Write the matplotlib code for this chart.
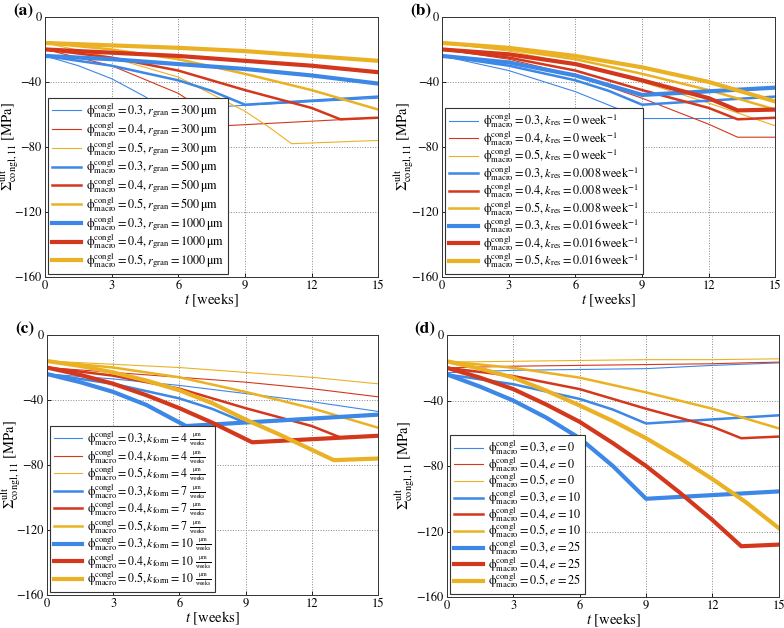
import matplotlib
matplotlib.use('Agg')
import matplotlib.pyplot as plt

plt.rcParams['font.family'] = ['STIXGeneral', 'DejaVu Serif']
plt.rcParams['mathtext.fontset'] = 'stix'

BLUE = '#3d87e6'
RED = '#d4381c'
YEL = '#ebb124'

# (a) granule radius
a_t = [[0, 1.5, 3, 4.5, 5.4, 15],
       [0, 3, 6, 7, 8, 15],
       [0, 3, 6, 9, 10, 11.1, 15],
       [0, 3, 6, 7.5, 9, 15],
       [0, 3, 6, 9, 12, 13.3, 15],
       [0, 3, 6, 9, 12, 15],
       [0, 3, 6, 9, 12, 15],
       [0, 3, 6, 9, 12, 15],
       [0, 3, 6, 9, 12, 15]]
a_y = [[-24, -30, -38, -49, -57, -50],
       [-20, -30, -47, -56, -67, -62],
       [-16, -25, -37, -58, -67, -78, -76],
       [-24, -30, -39, -45.5, -54, -49],
       [-20, -25, -33, -45, -56, -63, -62],
       [-16, -20, -26, -35, -45, -57],
       [-24, -26, -29, -32, -36, -41],
       [-20, -22, -24, -27, -30, -34],
       [-16, -17.5, -19, -21, -24, -27]]
PHI = r'\mathrm{\phi}^{\rm congl}_{\rm macro}'
UM = r'\mathrm{\mu m}'
a_lab = [r'$' + PHI + r'=0.3, r_{\rm gran}=300\,' + UM + '$',
         r'$' + PHI + r'=0.4, r_{\rm gran}=300\,' + UM + '$',
         r'$' + PHI + r'=0.5, r_{\rm gran}=300\,' + UM + '$',
         r'$' + PHI + r'=0.3, r_{\rm gran}=500\,' + UM + '$',
         r'$' + PHI + r'=0.4, r_{\rm gran}=500\,' + UM + '$',
         r'$' + PHI + r'=0.5, r_{\rm gran}=500\,' + UM + '$',
         r'$' + PHI + r'=0.3, r_{\rm gran}=1000\,' + UM + '$',
         r'$' + PHI + r'=0.4, r_{\rm gran}=1000\,' + UM + '$',
         r'$' + PHI + r'=0.5, r_{\rm gran}=1000\,' + UM + '$']

# (b) resorption rate
b_t = [[0, 3, 6, 9, 15],
       [0, 3, 6, 9, 12, 13.3, 15],
       [0, 3, 6, 9, 12, 15],
       [0, 3, 6, 7.5, 9, 15],
       [0, 3, 6, 9, 12, 13.3, 15],
       [0, 3, 6, 9, 12, 15],
       [0, 3, 6, 9, 15],
       [0, 3, 6, 9, 12, 13.3, 15],
       [0, 3, 6, 9, 12, 15]]
b_y = [[-24, -33, -46, -62.5, -62.5],
       [-20, -26, -36, -50, -66, -74, -74],
       [-16, -21, -29, -40, -53, -67],
       [-24, -30, -39, -45.5, -54, -49],
       [-20, -25, -33, -45, -56, -63, -62],
       [-16, -20, -26, -35, -45, -57],
       [-24, -28, -36, -48, -43.5],
       [-20, -23, -29, -39, -50, -57.5, -57],
       [-16, -19, -24, -31, -40, -52]]
b_lab = [r'$' + PHI + r'=0.3, k_{\rm res}=0\,{\rm week}^{-1}$',
         r'$' + PHI + r'=0.4, k_{\rm res}=0\,{\rm week}^{-1}$',
         r'$' + PHI + r'=0.5, k_{\rm res}=0\,{\rm week}^{-1}$',
         r'$' + PHI + r'=0.3, k_{\rm res}=0.008\,{\rm week}^{-1}$',
         r'$' + PHI + r'=0.4, k_{\rm res}=0.008\,{\rm week}^{-1}$',
         r'$' + PHI + r'=0.5, k_{\rm res}=0.008\,{\rm week}^{-1}$',
         r'$' + PHI + r'=0.3, k_{\rm res}=0.016\,{\rm week}^{-1}$',
         r'$' + PHI + r'=0.4, k_{\rm res}=0.016\,{\rm week}^{-1}$',
         r'$' + PHI + r'=0.5, k_{\rm res}=0.016\,{\rm week}^{-1}$']

# (c) formation rate
c_t = [[0, 3, 6, 9, 12, 15],
       [0, 3, 6, 9, 12, 15],
       [0, 3, 6, 9, 12, 15],
       [0, 3, 6, 7.5, 9, 15],
       [0, 3, 6, 9, 12, 13.3, 15],
       [0, 3, 6, 9, 12, 15],
       [0, 1.5, 3, 4.5, 6.3, 15],
       [0, 1.5, 3, 4.5, 6, 7.5, 9.3, 15],
       [0, 1.5, 3, 4.5, 6, 7.5, 9, 10.5, 13, 15]]
c_y = [[-24, -27, -31, -36, -41, -47],
       [-20, -23, -26, -29, -33, -38],
       [-16, -18, -20, -23, -26, -30],
       [-24, -30, -39, -45.5, -54, -49],
       [-20, -25, -33, -45, -56, -63, -62],
       [-16, -20, -26, -35, -45, -57],
       [-24, -29, -35, -43, -56, -49],
       [-20, -24.5, -30, -37, -45, -54, -66, -62],
       [-16, -19, -23, -28, -34, -42, -52, -61, -77, -76]]
FRAC = r'\genfrac{}{}{0.5}{2}{' + UM + r'}{\rm weeks}'
c_lab = [r'$' + PHI + r'=0.3, k_{\rm form}=4\ ' + FRAC + '$',
         r'$' + PHI + r'=0.4, k_{\rm form}=4\ ' + FRAC + '$',
         r'$' + PHI + r'=0.5, k_{\rm form}=4\ ' + FRAC + '$',
         r'$' + PHI + r'=0.3, k_{\rm form}=7\ ' + FRAC + '$',
         r'$' + PHI + r'=0.4, k_{\rm form}=7\ ' + FRAC + '$',
         r'$' + PHI + r'=0.5, k_{\rm form}=7\ ' + FRAC + '$',
         r'$' + PHI + r'=0.3, k_{\rm form}=10\ ' + FRAC + '$',
         r'$' + PHI + r'=0.4, k_{\rm form}=10\ ' + FRAC + '$',
         r'$' + PHI + r'=0.5, k_{\rm form}=10\ ' + FRAC + '$']

# (d) eigenstrain
d_t = [[0, 3, 6, 9, 12, 15],
       [0, 3, 6, 9, 12, 13.3, 15],
       [0, 3, 6, 9, 12, 15],
       [0, 3, 6, 7.5, 9, 15],
       [0, 3, 6, 9, 12, 13.3, 15],
       [0, 3, 6, 9, 12, 15],
       [0, 1.5, 3, 4.5, 6, 7.5, 9, 15],
       [0, 1.5, 3, 4.5, 6, 7.5, 9, 10.5, 12, 13.3, 15],
       [0, 1.5, 3, 4.5, 6, 7.5, 9, 10.5, 12, 13.5, 15]]
d_y = [[-23, -21.5, -21, -20.5, -18.5, -17],
       [-20, -19, -18.5, -18, -17.5, -17, -16.5],
       [-16.5, -16, -15.5, -15, -15, -14.5],
       [-24, -30, -39, -45.5, -54, -49],
       [-20, -25, -33, -45, -56, -63, -62],
       [-16, -20, -26, -35, -45, -57],
       [-24, -31.5, -40, -50.5, -63, -80, -100, -95.5],
       [-20, -26, -33, -42.5, -53, -66, -80, -96, -113, -129, -128],
       [-16, -20.5, -26, -34, -43, -52.5, -63, -75, -88, -102, -118]]
d_lab = [r'$' + PHI + r'=0.3, e=0$',
         r'$' + PHI + r'=0.4, e=0$',
         r'$' + PHI + r'=0.5, e=0$',
         r'$' + PHI + r'=0.3, e=10$',
         r'$' + PHI + r'=0.4, e=10$',
         r'$' + PHI + r'=0.5, e=10$',
         r'$' + PHI + r'=0.3, e=25$',
         r'$' + PHI + r'=0.4, e=25$',
         r'$' + PHI + r'=0.5, e=25$']

colors = [BLUE, RED, YEL] * 3
widths = [0.8] * 3 + [1.8] * 3 + [3.0] * 3

fig = plt.figure(figsize=(7.84, 6.28), dpi=100)
boxes = [[0.0574, 0.559, 0.425, 0.414],
         [0.564, 0.559, 0.425, 0.414],
         [0.060, 0.0525, 0.422, 0.414],
         [0.570, 0.0494, 0.4235, 0.417]]
# tag, legend font, label spacing, ylabel x (axes coords)
panels = [(a_t, a_y, a_lab, '(a)', 8.8, 0.02, -0.071),
          (b_t, b_y, b_lab, '(b)', 8.8, -0.05, -0.078),
          (c_t, c_y, c_lab, '(c)', 8.6, -0.1, -0.072),
          (d_t, d_y, d_lab, '(d)', 8.8, -0.12, -0.09)]

for box, (T, Y, L, tag, fs, ls, ylx) in zip(boxes, panels):
    ax = fig.add_axes(box)
    for i in range(9):
        ax.plot(T[i], Y[i], color=colors[i], lw=widths[i], label=L[i],
                solid_joinstyle='round')
    ax.set_xlim(0, 15)
    ax.set_ylim(-160, 0)
    ax.set_xticks([0, 3, 6, 9, 12, 15])
    ax.set_yticks([-160, -120, -80, -40, 0])
    ax.grid(True, linestyle=':', color='#888888', lw=0.7)
    ax.tick_params(direction='in', length=3, labelsize=9, width=0.6, pad=2.5)
    for sp in ax.spines.values():
        sp.set_linewidth(0.7)
        sp.set_color('#333333')
    ax.set_xlabel(r'$t$ [weeks]', fontsize=10.5, labelpad=-0.5)
    ax.set_ylabel(r'$\Sigma^{\rm ult}_{\rm congl,11}$ [MPa]', fontsize=10.5)
    ax.yaxis.set_label_coords(ylx, 0.5)
    leg = ax.legend(loc='lower left', fontsize=fs, frameon=True, fancybox=False,
                    edgecolor='#333333', framealpha=1, handlelength=2.4,
                    labelspacing=ls, borderpad=0.3, borderaxespad=0.25,
                    handletextpad=0.4)
    leg.get_frame().set_linewidth(0.8)
    pos = ax.get_position()
    fig.text(pos.x0 - 0.041, pos.y1 + 0.022, tag, fontsize=12.5,
             fontweight='bold', va='top', ha='left')

plt.savefig('out.png', dpi=100)
